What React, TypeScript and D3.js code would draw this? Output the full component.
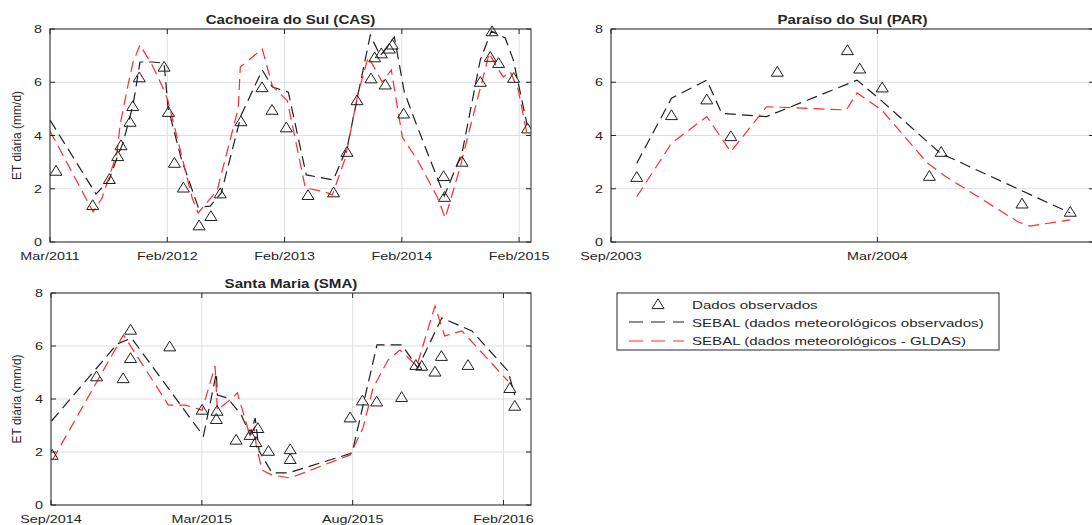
import React from "react";
import * as d3 from "d3";

type Pt = [number, number];

// ---------- shared ----------
const yTicks = [0, 2, 4, 6, 8];
const yLabel = "ET diária (mm/d)";
const legendLabels = [
  "Dados observados",
  "SEBAL (dados meteorológicos observados)",
  "SEBAL (dados meteorológicos - GLDAS)",
];

// ---------- Cachoeira do Sul (CAS) ----------
const casDomain = ["2011-03-01", "2015-04-06"];
const casTicks = ["2011-03-01", "2012-02-29", "2013-02-28", "2014-02-28", "2015-02-28"];
const casObserved: Pt[] = [
  [2011.213, 2.68], [2011.526, 1.39], [2011.668, 2.37], [2011.739, 3.23], [2011.767, 3.64],
  [2011.844, 4.52], [2011.867, 5.11], [2011.923, 6.19], [2012.134, 6.59], [2012.171, 4.89],
  [2012.222, 2.98], [2012.298, 2.05], [2012.432, 0.63], [2012.532, 0.98], [2012.611, 1.83],
  [2012.788, 4.54], [2012.967, 5.82], [2013.052, 4.97], [2013.174, 4.31], [2013.359, 1.77],
  [2013.577, 1.87], [2013.691, 3.39], [2013.777, 5.33], [2013.896, 6.15], [2013.927, 6.94],
  [2013.984, 7.09], [2014.018, 5.92], [2014.052, 7.27], [2014.078, 7.42], [2014.174, 4.83],
  [2014.515, 2.48], [2014.523, 1.70], [2014.672, 3.02], [2014.828, 6.02], [2014.913, 6.96],
  [2014.928, 7.92], [2014.984, 6.73], [2015.112, 6.17], [2015.231, 4.27],
];
const casSebalObs: Pt[] = [
  [2011.162, 4.58], [2011.554, 1.80], [2011.665, 2.33], [2011.742, 3.27], [2011.784, 3.72],
  [2011.870, 5.15], [2011.929, 6.76], [2012.032, 6.76], [2012.134, 6.72], [2012.168, 5.03],
  [2012.279, 3.15], [2012.424, 1.31], [2012.526, 1.35], [2012.620, 1.84], [2012.790, 4.77],
  [2012.969, 6.46], [2013.055, 5.82], [2013.191, 5.63], [2013.344, 2.52], [2013.575, 2.33],
  [2013.694, 3.57], [2013.779, 5.41], [2013.890, 7.77], [2013.975, 6.99], [2014.095, 7.70],
  [2014.180, 5.63], [2014.282, 4.43], [2014.521, 1.73], [2014.674, 3.38], [2014.828, 6.84],
  [2014.922, 7.92], [2015.041, 7.66], [2015.109, 6.84], [2015.228, 4.39],
];
const casSebalGldas: Pt[] = [
  [2011.162, 4.17], [2011.529, 1.13], [2011.605, 1.65], [2011.733, 3.34], [2011.759, 4.39],
  [2011.827, 5.90], [2011.870, 6.76], [2011.929, 7.40], [2012.032, 6.65], [2012.117, 5.86],
  [2012.168, 5.30], [2012.373, 1.65], [2012.424, 1.09], [2012.586, 1.95], [2012.765, 5.03],
  [2012.782, 6.57], [2012.969, 7.25], [2013.055, 5.86], [2013.183, 5.30], [2013.336, 2.03],
  [2013.506, 1.88], [2013.566, 1.77], [2013.677, 3.15], [2013.788, 5.63], [2013.873, 6.95],
  [2013.992, 6.01], [2014.069, 6.46], [2014.163, 3.94], [2014.291, 3.08], [2014.461, 1.69],
  [2014.529, 0.90], [2014.657, 2.82], [2014.742, 4.32], [2014.853, 6.20], [2014.904, 7.10],
  [2014.972, 6.54], [2015.024, 6.20], [2015.084, 6.39], [2015.152, 5.71], [2015.228, 4.02],
];

// ---------- Paraíso do Sul (PAR) ----------
const parDomain = ["2003-09-01", "2004-07-27"];
const parTicks = ["2003-09-01", "2004-03-01"];
const parObserved: Pt[] = [
  [2003.714, 2.45], [2003.779, 4.77], [2003.845, 5.36], [2003.890, 3.98], [2003.977, 6.40],
  [2004.108, 7.21], [2004.131, 6.52], [2004.173, 5.81], [2004.261, 2.49], [2004.283, 3.39],
  [2004.434, 1.45], [2004.524, 1.14],
];
const parSebalObs: Pt[] = [
  [2003.714, 2.96], [2003.779, 5.40], [2003.845, 6.08], [2003.873, 4.83], [2003.957, 4.71],
  [2004.126, 6.08], [2004.172, 5.30], [2004.281, 3.34], [2004.524, 1.09],
];
const parSebalGldas: Pt[] = [
  [2003.714, 1.70], [2003.779, 3.71], [2003.845, 4.71], [2003.890, 3.39], [2003.957, 5.08],
  [2004.106, 4.96], [2004.126, 5.60], [2004.172, 4.96], [2004.257, 2.97], [2004.290, 2.48],
  [2004.427, 0.75], [2004.449, 0.60], [2004.524, 0.83],
];

// ---------- Santa Maria (SMA) ----------
const smaDomain = ["2014-09-14", "2016-03-08"];
const smaTicks = ["2014-09-14", "2015-03-03", "2015-08-20", "2016-02-06"];
const smaObserved: Pt[] = [
  [2014.705, 1.90], [2014.842, 4.86], [2014.924, 4.79], [2014.947, 5.55], [2014.947, 6.62],
  [2015.068, 5.99], [2015.168, 3.60], [2015.214, 3.56], [2015.212, 3.25], [2015.273, 2.47],
  [2015.316, 2.65], [2015.340, 2.91], [2015.334, 2.38], [2015.373, 2.05], [2015.440, 2.11],
  [2015.440, 1.74], [2015.625, 3.31], [2015.663, 3.95], [2015.707, 3.91], [2015.784, 4.08],
  [2015.828, 5.29], [2015.846, 5.26], [2015.887, 5.04], [2015.907, 5.63], [2015.989, 5.29],
  [2016.118, 4.42], [2016.133, 3.75],
];
const smaSebalObs: Pt[] = [
  [2014.703, 3.17], [2014.906, 6.08], [2014.950, 6.30], [2015.172, 2.60], [2015.212, 4.98],
  [2015.215, 4.15], [2015.246, 4.04], [2015.289, 3.40], [2015.316, 2.64], [2015.332, 3.28],
  [2015.344, 2.04], [2015.384, 1.21], [2015.434, 1.21], [2015.631, 1.96], [2015.708, 6.04],
  [2015.785, 6.04], [2015.834, 5.17], [2015.908, 7.06], [2016.001, 6.57], [2016.112, 5.06],
  [2016.133, 4.15],
];
const smaSebalGldas: Pt[] = [
  [2014.706, 1.70], [2014.925, 6.42], [2015.064, 3.77], [2015.116, 3.77], [2015.168, 3.58],
  [2015.208, 5.25], [2015.215, 3.58], [2015.249, 3.92], [2015.277, 4.23], [2015.316, 2.60],
  [2015.329, 2.91], [2015.335, 2.26], [2015.353, 1.32], [2015.384, 1.13], [2015.440, 1.02],
  [2015.625, 1.89], [2015.665, 2.91], [2015.696, 4.42], [2015.742, 5.47], [2015.779, 5.85],
  [2015.831, 5.25], [2015.887, 7.51], [2015.917, 6.38], [2015.970, 6.57], [2016.112, 4.68],
];

// ---------- helpers ----------
const FONT = "'Liberation Sans', Arial, Helvetica, sans-serif";
const TXT = "#262626";
const GRID = "#dedede";
const BLACK = "#1e1e1e";
const RED = "#ff2a2a";
const DASH = "11 6";
const SX = 1.24;

function toDate(yr: number): Date {
  const y = Math.floor(yr);
  const a = Date.UTC(y, 0, 1);
  const b = Date.UTC(y + 1, 0, 1);
  return new Date(a + (yr - y) * (b - a));
}
const parseDay = (s: string) => new Date(s + "T00:00:00Z");
const fmt = d3.utcFormat("%b/%Y");

function SText(props: {
  x: number; y: number; anchor?: string; size: number; weight?: string;
  children: React.ReactNode; rotate?: number; sx?: number;
}) {
  const { x, y, anchor = "start", size, weight = "normal", children, rotate = 0, sx = SX } = props;
  const tr = rotate
    ? `translate(${x},${y}) rotate(${rotate})`
    : `translate(${x},${y}) scale(${sx},1)`;
  return (
    <text transform={tr} textAnchor={anchor} fontSize={size} fontWeight={weight}
      fontFamily={FONT} fill={TXT}>{children}</text>
  );
}

const triPath = "M0,-5.2 L6,4.6 L-6,4.6 Z";

type Box = { x0: number; x1: number; y0: number; y1: number };

function Panel(props: {
  id: string; title: string; domain: string[]; ticks: string[]; box: Box;
  obs: Pt[]; black: Pt[]; red: Pt[];
}) {
  const { id, title, domain, ticks, box, obs, black, red } = props;
  const x = d3.scaleUtc().domain(domain.map(parseDay)).range([box.x0, box.x1]);
  const y = d3.scaleLinear().domain([0, 8]).range([box.y1, box.y0]);
  const line = d3.line<Pt>().x((d) => x(toDate(d[0]))).y((d) => y(d[1]));
  const tickDates = ticks.map(parseDay);
  const TL = 5;
  return (
    <g>
      <defs>
        <clipPath id={id}>
          <rect x={box.x0} y={box.y0 - 8} width={box.x1 - box.x0} height={box.y1 - box.y0 + 8} />
        </clipPath>
      </defs>
      {yTicks.map((t) => (
        <line key={"gy" + t} x1={box.x0} x2={box.x1} y1={y(t)} y2={y(t)} stroke={GRID} strokeWidth={1} />
      ))}
      {tickDates.map((t, i) => (
        <line key={"gx" + i} x1={x(t)} x2={x(t)} y1={box.y0} y2={box.y1} stroke={GRID} strokeWidth={1} />
      ))}
      <g clipPath={`url(#${id})`}>
        <path d={line(black) || ""} fill="none" stroke={BLACK} strokeWidth={1.2} strokeDasharray={DASH} />
        <path d={line(red) || ""} fill="none" stroke={RED} strokeWidth={1.2} strokeDasharray={DASH} />
        {obs.map((d, i) => (
          <path key={"o" + i} d={triPath}
            transform={`translate(${x(toDate(d[0]))},${y(d[1])})`}
            fill="none" stroke={BLACK} strokeWidth={1} />
        ))}
      </g>
      <rect x={box.x0} y={box.y0} width={box.x1 - box.x0} height={box.y1 - box.y0}
        fill="none" stroke={TXT} strokeWidth={1} />
      {yTicks.map((t) => (
        <g key={"ty" + t}>
          <line x1={box.x0} x2={box.x0 + TL} y1={y(t)} y2={y(t)} stroke={TXT} />
          <line x1={box.x1} x2={box.x1 - TL} y1={y(t)} y2={y(t)} stroke={TXT} />
          <SText x={box.x0 - 8} y={y(t) + 4.2} anchor="end" size={11.6}>{String(t)}</SText>
        </g>
      ))}
      {tickDates.map((t, i) => (
        <g key={"tx" + i}>
          <line x1={x(t)} x2={x(t)} y1={box.y1} y2={box.y1 - TL} stroke={TXT} />
          <line x1={x(t)} x2={x(t)} y1={box.y0} y2={box.y0 + TL} stroke={TXT} />
          <SText x={x(t)} y={box.y1 + 18} anchor="middle" size={11.6}>{fmt(t)}</SText>
        </g>
      ))}
      <SText x={(box.x0 + box.x1) / 2} y={box.y0 - 5} anchor="middle" size={12.2} weight="bold">{title}</SText>
    </g>
  );
}

export default function App() {
  const casBox: Box = { x0: 50, x1: 531, y0: 29, y1: 242 };
  const parBox: Box = { x0: 611, x1: 1094, y0: 29, y1: 242 };
  const smaBox: Box = { x0: 51, x1: 531, y0: 293, y1: 505 };
  return (
    <div style={{ position: "fixed", left: 0, top: 0 }}>
      <svg width={1092} height={525} style={{ display: "block", background: "#ffffff" }}>
        <rect x={0} y={0} width={1092} height={525} fill="#ffffff" />
        <Panel id="cas" title="Cachoeira do Sul (CAS)" domain={casDomain} ticks={casTicks}
          box={casBox} obs={casObserved} black={casSebalObs} red={casSebalGldas} />
        <Panel id="par" title="Paraíso do Sul (PAR)" domain={parDomain} ticks={parTicks}
          box={parBox} obs={parObserved} black={parSebalObs} red={parSebalGldas} />
        <Panel id="sma" title="Santa Maria (SMA)" domain={smaDomain} ticks={smaTicks}
          box={smaBox} obs={smaObserved} black={smaSebalObs} red={smaSebalGldas} />
        <SText x={21} y={(casBox.y0 + casBox.y1) / 2} anchor="middle" size={12} rotate={-90}>{yLabel}</SText>
        <SText x={21} y={(smaBox.y0 + smaBox.y1) / 2} anchor="middle" size={12} rotate={-90}>{yLabel}</SText>
        <g>
          <rect x={617} y={293} width={382} height={57} fill="#ffffff" stroke={TXT} strokeWidth={1} />
          <path d={triPath} transform="translate(658,304)" fill="none" stroke={BLACK} strokeWidth={1} />
          <line x1={629} x2={684} y1={322} y2={322} stroke={BLACK} strokeWidth={1.2} strokeDasharray="14 8" />
          <line x1={629} x2={684} y1={341} y2={341} stroke={RED} strokeWidth={1.2} strokeDasharray="14 8" />
          {legendLabels.map((l, i) => (
            <SText key={l} x={692} y={309 + i * 18} size={11.6} sx={1.3}>{l}</SText>
          ))}
        </g>
      </svg>
    </div>
  );
}
